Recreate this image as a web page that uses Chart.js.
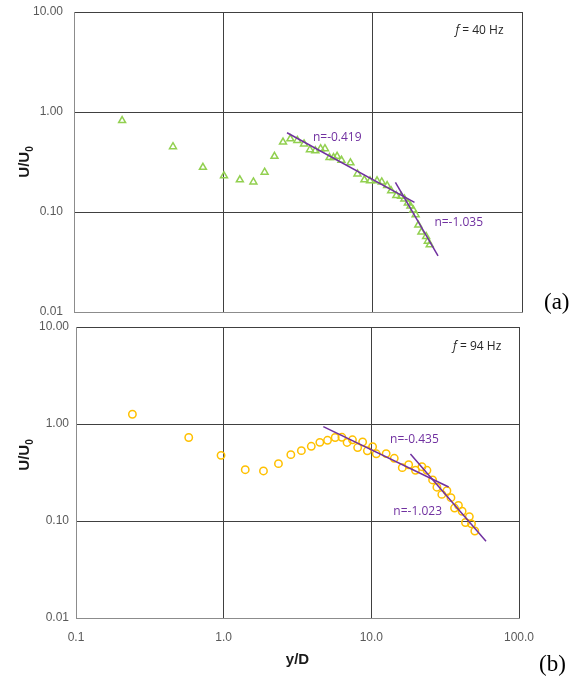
<!DOCTYPE html>
<html>
<head>
<meta charset="utf-8">
<script src="https://cdn.jsdelivr.net/npm/chart.js@4"></script>
<style>
  body { margin: 0; background: #fff; }
  #wrap { position: relative; width: 586px; height: 677px; }
  canvas { position: absolute; left: 0; }
  .tag { position: absolute; font-family: "Liberation Serif", "Times New Roman", serif; font-size: 23px; color: #000; }
</style>
</head>
<body>
<div id="wrap">
  <canvas id="chartA" width="586" height="320" style="top:0"></canvas>
  <canvas id="chartB" width="586" height="357" style="top:320px"></canvas>
  <div class="tag" style="left:544px; top:289px">(a)</div>
  <div class="tag" style="left:539px; top:651px">(b)</div>
</div>
<script>
// axis ticks
const xTicks = [0.1, 1, 10, 100];
const xTickLabels = ['0.1', '1.0', '10.0', '100.0'];
const yTicks = [0.01, 0.1, 1, 10];
const yTickLabels = ['0.01', '0.10', '1.00', '10.00'];

// f = 40 Hz  (panel a)
const yD40 = [0.21, 0.46, 0.73, 1.01, 1.29, 1.59, 1.89, 2.20, 2.51, 2.81,
              3.13, 3.47, 3.80, 4.13, 4.48, 4.79, 5.14, 5.47, 5.78, 6.18,
              7.10, 7.91, 8.80, 9.60, 10.7, 11.5, 12.5, 13.3, 14.4, 15.5,
              16.3, 17.2, 17.9, 18.7, 19.4, 20.2, 21.2, 22.8, 23.4, 24.1];
const u40 = [0.82, 0.45, 0.28, 0.23, 0.21, 0.20, 0.25, 0.36, 0.50, 0.54,
             0.52, 0.48, 0.42, 0.41, 0.43, 0.43, 0.35, 0.35, 0.36, 0.33,
             0.31, 0.24, 0.21, 0.205, 0.205, 0.20, 0.184, 0.163, 0.146, 0.144,
             0.135, 0.123, 0.115, 0.105, 0.094, 0.074, 0.063, 0.057, 0.051, 0.047];
const fit40aX = [2.67, 19.05], fit40aY = [0.62, 0.125];
const fit40bX = [14.2, 27.4],  fit40bY = [0.198, 0.0364];

// f = 94 Hz  (panel b)
const yD94 = [0.241, 0.58, 0.96, 1.40, 1.86, 2.35, 2.85, 3.36, 3.92, 4.48,
              5.05, 5.69, 6.32, 6.85, 7.45, 8.08, 8.73, 9.40, 10.2, 10.8,
              12.6, 14.3, 16.2, 17.9, 19.9, 22.0, 23.8, 26.0, 27.8, 30.0,
              32.5, 34.6, 36.6, 38.9, 41.2, 43.4, 46.1, 47.7, 50.2];
const u94 = [1.26, 0.726, 0.475, 0.338, 0.328, 0.390, 0.483, 0.531, 0.589, 0.647,
             0.679, 0.726, 0.729, 0.645, 0.687, 0.572, 0.652, 0.529, 0.584, 0.493,
             0.495, 0.443, 0.355, 0.380, 0.333, 0.363, 0.333, 0.265, 0.223, 0.188,
             0.205, 0.174, 0.136, 0.145, 0.126, 0.0965, 0.111, 0.0935, 0.0789];
const fit94aX = [4.73, 33.4], fit94aY = [0.939, 0.224];
const fit94bX = [18.4, 59.8], fit94bY = [0.491, 0.0617];

const PURPLE = '#7030A0';
const pts = (xs, ys) => xs.map((v, i) => ({ x: v, y: ys[i] }));

// text inside the plot + rotated y title with subscript
const notesPlugin = {
  id: 'notes',
  afterDatasetsDraw(chart, args, opts) {
    const { ctx } = chart;
    const sx = chart.scales.x, sy = chart.scales.y;
    ctx.save();
    ctx.textBaseline = 'middle';
    ctx.textAlign = 'left';
    opts.items.forEach(n => {
      let px = sx.getPixelForValue(n.x);
      const py = sy.getPixelForValue(n.y);
      n.parts.forEach(p => {
        ctx.font = (p.italic ? 'italic ' : '') + '12px "Open Sans", sans-serif';
        ctx.fillStyle = n.color;
        ctx.fillText(p.t, px, py);
        px += ctx.measureText(p.t).width;
      });
    });
    // y axis title U/U0
    ctx.translate(opts.titleX, opts.titleY);
    ctx.rotate(-Math.PI / 2);
    ctx.fillStyle = '#1a1a1a';
    ctx.font = 'bold 15px "Liberation Sans", Arial, sans-serif';
    const main = 'U/U';
    const w = ctx.measureText(main).width;
    ctx.font = 'bold 10px "Liberation Sans", Arial, sans-serif';
    const w0 = ctx.measureText('0').width;
    const start = -(w + w0) / 2;
    ctx.font = 'bold 15px "Liberation Sans", Arial, sans-serif';
    ctx.fillText(main, start, 0);
    ctx.font = 'bold 10px "Liberation Sans", Arial, sans-serif';
    ctx.fillText('0', start + w, 5);
    ctx.restore();
  }
};

function noPad(s) {
  s.paddingTop = 0; s.paddingBottom = 0; s.paddingLeft = 0; s.paddingRight = 0;
}

function makePanel(id, cfg) {
  return new Chart(document.getElementById(id), {
    type: 'scatter',
    data: {
      datasets: [
        { data: pts(cfg.fitA[0], cfg.fitA[1]), showLine: true, borderColor: PURPLE, borderWidth: 1.5, pointRadius: 0 },
        { data: pts(cfg.fitB[0], cfg.fitB[1]), showLine: true, borderColor: PURPLE, borderWidth: 1.5, pointRadius: 0 },
        { data: pts(cfg.xs, cfg.ys), pointStyle: cfg.marker, pointRadius: cfg.r, borderWidth: 1.5,
          borderColor: cfg.color, backgroundColor: 'rgba(0,0,0,0)' }
      ]
    },
    options: {
      responsive: false,
      animation: false,
      events: [],
      layout: { padding: cfg.pad },
      plugins: {
        legend: { display: false },
        tooltip: { enabled: false },
        notes: { items: cfg.notes, titleX: 25, titleY: cfg.titleY }
      },
      scales: {
        x: {
          type: 'logarithmic',
          min: 0.1,
          max: 100,
          afterBuildTicks: s => { s.ticks = xTicks.map(v => ({ value: v })); },
          afterFit: s => { s.height = cfg.xH; noPad(s); },
          grid: { color: '#404040', drawTicks: false },
          border: { color: '#8c8c8c' },
          ticks: {
            display: cfg.showX,
            autoSkip: false,
            maxRotation: 0,
            padding: 12,
            color: '#595959',
            font: { family: 'Liberation Sans', size: 12 },
            callback: (v, i) => xTickLabels[i]
          },
          title: {
            display: cfg.showX,
            text: 'y/D',
            color: '#1a1a1a',
            padding: { top: 0, bottom: 8 },
            font: { family: 'Liberation Sans', size: 15, weight: 'bold' }
          }
        },
        y: {
          type: 'logarithmic',
          min: 0.01,
          max: 10,
          afterBuildTicks: s => { s.ticks = yTicks.map(v => ({ value: v })); },
          afterFit: s => { s.width = cfg.yW; noPad(s); },
          grid: { color: '#404040', drawTicks: false },
          border: { color: '#8c8c8c' },
          ticks: {
            padding: cfg.yPad,
            color: '#595959',
            font: { family: 'Liberation Sans', size: 12 },
            callback: (v, i) => yTickLabels[i]
          }
        }
      }
    },
    plugins: [notesPlugin]
  });
}

makePanel('chartA', {
  xs: yD40, ys: u40, fitA: [fit40aX, fit40aY], fitB: [fit40bX, fit40bY],
  marker: 'triangle', color: '#92D050', r: 4,
  pad: { left: 0, right: 64, top: 12, bottom: 0 },
  xH: 8, yW: 74, yPad: 11, showX: false, titleY: 162,
  notes: [
    { x: 3.98, y: 0.553, color: PURPLE, parts: [{ t: 'n=-0.419' }] },
    { x: 25.9, y: 0.0778, color: PURPLE, parts: [{ t: 'n=-1.035' }] },
    { x: 35.8, y: 6.49, color: '#262626', parts: [{ t: 'f', italic: true }, { t: ' = 40 Hz' }] }
  ]
});

makePanel('chartB', {
  xs: yD94, ys: u94, fitA: [fit94aX, fit94aY], fitB: [fit94bX, fit94bY],
  marker: 'circle', color: '#FFC000', r: 3.7,
  pad: { left: 0, right: 67, top: 7, bottom: 0 },
  xH: 59, yW: 76, yPad: 7, showX: true, titleY: 135,
  notes: [
    { x: 13.4, y: 0.689, color: PURPLE, parts: [{ t: 'n=-0.435' }] },
    { x: 14.1, y: 0.125, color: PURPLE, parts: [{ t: 'n=-1.023' }] },
    { x: 35.8, y: 6.26, color: '#262626', parts: [{ t: 'f', italic: true }, { t: ' = 94 Hz' }] }
  ]
});
</script>
</body>
</html>
